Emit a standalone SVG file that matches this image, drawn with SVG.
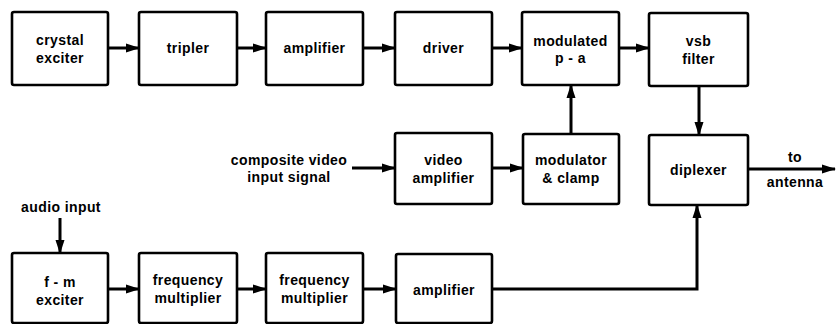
<svg xmlns="http://www.w3.org/2000/svg" width="836" height="324" viewBox="0 0 836 324">
<style>
.box{fill:#fff;stroke:#000;stroke-width:2.6}
.t{font-family:"Liberation Sans",Arial,sans-serif;font-weight:bold;font-size:14px;text-anchor:middle;fill:#000;letter-spacing:0.4px}
.c{fill:none;stroke:#000;stroke-width:3}
</style>
<defs>
<marker id="ah" markerUnits="userSpaceOnUse" markerWidth="14" markerHeight="10" refX="13" refY="5" orient="auto">
<path d="M0,0.5 L14,5 L0,9.5 z" fill="#000"/>
</marker>
</defs>
<rect width="836" height="324" fill="#fff"/>
<g id="connectors">
<path class="c" d="M108,48 H139" marker-end="url(#ah)"/>
<path class="c" d="M237,48 H266" marker-end="url(#ah)"/>
<path class="c" d="M363,48 H395" marker-end="url(#ah)"/>
<path class="c" d="M492,48 H522" marker-end="url(#ah)"/>
<path class="c" d="M619,48 H649" marker-end="url(#ah)"/>
<path class="c" d="M571,134 V85" marker-end="url(#ah)"/>
<path class="c" d="M699,86 V135" marker-end="url(#ah)"/>
<path class="c" d="M352,168 H395" marker-end="url(#ah)"/>
<path class="c" d="M492,168 H523" marker-end="url(#ah)"/>
<path class="c" d="M748,169 H835" marker-end="url(#ah)"/>
<path class="c" d="M60,218 V253" marker-end="url(#ah)"/>
<path class="c" d="M108,289 H139" marker-end="url(#ah)"/>
<path class="c" d="M237,289 H266" marker-end="url(#ah)"/>
<path class="c" d="M363,289 H396" marker-end="url(#ah)"/>
<path class="c" d="M492,289 H697 V205" marker-end="url(#ah)"/>
</g>
<g id="crystal-exciter"><rect class="box" x="12" y="12" width="96" height="73" rx="2"/><text class="t" x="60" y="45">crystal</text><text class="t" x="60" y="63">exciter</text></g>
<g id="tripler"><rect class="box" x="139" y="12" width="98" height="73" rx="2"/><text class="t" x="188" y="53">tripler</text></g>
<g id="amplifier1"><rect class="box" x="266" y="12" width="97" height="73" rx="2"/><text class="t" x="314.5" y="53">amplifier</text></g>
<g id="driver"><rect class="box" x="395" y="12" width="97" height="73" rx="2"/><text class="t" x="443.5" y="53">driver</text></g>
<g id="modulated-pa"><rect class="box" x="522" y="12" width="97" height="73" rx="2"/><text class="t" x="570.5" y="46">modulated</text><text class="t" x="570.5" y="63">p - a</text></g>
<g id="vsb-filter"><rect class="box" x="649" y="13" width="99" height="73" rx="2"/><text class="t" x="698.5" y="46">vsb</text><text class="t" x="698.5" y="64">filter</text></g>
<g id="composite-input"><text class="t" x="289" y="165">composite video</text><text class="t" x="289" y="182">input signal</text></g>
<g id="video-amplifier"><rect class="box" x="395" y="133" width="97" height="71" rx="2"/><text class="t" x="443.5" y="165">video</text><text class="t" x="443.5" y="183">amplifier</text></g>
<g id="modulator-clamp"><rect class="box" x="523" y="134" width="96" height="70" rx="2"/><text class="t" x="571" y="165">modulator</text><text class="t" x="571" y="183">&amp; clamp</text></g>
<g id="diplexer"><rect class="box" x="649" y="135" width="99" height="70" rx="2"/><text class="t" x="698.5" y="175">diplexer</text></g>
<g id="to-antenna"><text class="t" x="795" y="162">to</text><text class="t" x="795" y="187">antenna</text></g>
<g id="audio-input"><text class="t" x="61" y="212">audio input</text></g>
<g id="fm-exciter"><rect class="box" x="12" y="253" width="96" height="70" rx="2"/><text class="t" x="60" y="287">f - m</text><text class="t" x="60" y="305">exciter</text></g>
<g id="freq-mult1"><rect class="box" x="139" y="253" width="98" height="70" rx="2"/><text class="t" x="188" y="285">frequency</text><text class="t" x="188" y="303">multiplier</text></g>
<g id="freq-mult2"><rect class="box" x="266" y="253" width="97" height="70" rx="2"/><text class="t" x="314.5" y="285">frequency</text><text class="t" x="314.5" y="303">multiplier</text></g>
<g id="amplifier2"><rect class="box" x="396" y="254" width="96" height="69" rx="2"/><text class="t" x="444" y="295">amplifier</text></g>
</svg>
